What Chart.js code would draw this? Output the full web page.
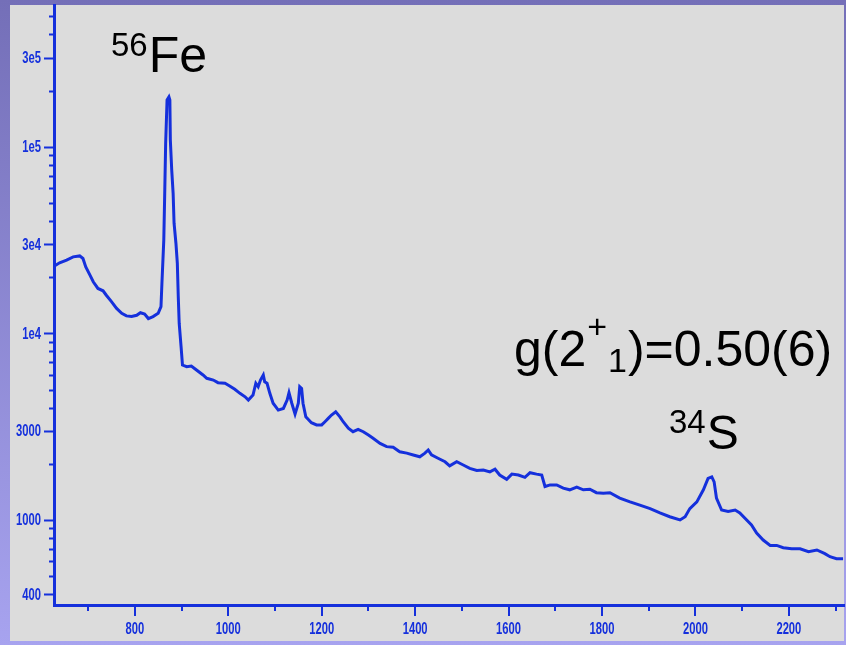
<!DOCTYPE html>
<html>
<head>
<meta charset="utf-8">
<script src="https://cdn.jsdelivr.net/npm/chart.js@4/dist/chart.umd.min.js"></script>
<style>
  html, body { margin: 0; padding: 0; background: #8c88d2; }
  #wrap { position: relative; width: 846px; height: 645px; }
  canvas { display: block; }
</style>
</head>
<body>
<div id="wrap"><canvas id="spec" width="846" height="645"></canvas></div>
<script>
// Gamma-ray spectrum: energy (keV) and counts per bin
const energies = [
  627, 639, 654, 668, 682, 689, 695, 704, 711, 721, 732, 739, 750, 761, 772, 782,
  793, 804, 812, 821, 829, 839, 850, 856, 858, 862, 864, 866, 869, 873, 875, 876,
  879, 882, 884, 888, 891, 893, 895, 899, 902, 911, 921, 932, 946, 954, 968, 978,
  993, 1003, 1014, 1025, 1036, 1043, 1053, 1059, 1064, 1069, 1075, 1078, 1083, 1089,
  1096, 1107, 1118, 1126, 1130, 1136, 1143, 1150, 1153, 1157, 1160, 1166, 1178, 1189,
  1200, 1207, 1214, 1221, 1230, 1239, 1246, 1257, 1267, 1278, 1289, 1300, 1310, 1325,
  1339, 1353, 1367, 1382, 1396, 1410, 1421, 1428, 1435, 1449, 1464, 1474, 1489, 1503,
  1517, 1532, 1546, 1560, 1571, 1581, 1596, 1607, 1621, 1635, 1646, 1660, 1671, 1678,
  1689, 1703, 1717, 1731, 1746, 1760, 1774, 1788, 1803, 1817, 1838, 1860, 1881, 1903,
  1924, 1945, 1967, 1978, 1988, 2003, 2017, 2027, 2035, 2040, 2045, 2056, 2070, 2085,
  2095, 2106, 2120, 2131, 2145, 2160, 2174, 2188, 2206, 2224, 2242, 2260, 2277, 2288,
  2302, 2316
];
const counts = [
  22900, 23900, 24700, 25700, 26000, 25200, 22700, 20500, 18900, 17400, 16900, 16000, 14800, 13600, 12800, 12400,
  12300, 12500, 12900, 12700, 12000, 12300, 12800, 13900, 18500, 31600, 56300, 104000, 178000, 185000, 178000, 109000,
  75000, 56300, 38900, 30400, 23700, 15700, 11300, 8480, 6760, 6620, 6680, 6360, 5980, 5740, 5620, 5440,
  5400, 5220, 5010, 4770, 4570, 4390, 4670, 5400, 5180, 5620, 5980, 5500, 5400, 4770,
  4220, 3880, 3960, 4390, 4810, 4220, 3690, 4220, 5180, 5070, 4220, 3570, 3320, 3230,
  3230, 3360, 3500, 3650, 3800, 3570, 3360, 3100, 2970, 3060, 2970, 2850, 2740, 2570,
  2470, 2450, 2320, 2280, 2230, 2180, 2280, 2370, 2230, 2140, 2050, 1950, 2050, 1970,
  1890, 1840, 1850, 1810, 1870, 1740, 1650, 1760, 1740, 1690, 1790, 1760, 1740, 1510,
  1540, 1540, 1480, 1450, 1500, 1450, 1460, 1400, 1390, 1400, 1310, 1250, 1200, 1150,
  1090, 1040, 1000, 1040, 1150, 1250, 1450, 1670, 1700, 1600, 1310, 1130, 1110, 1130,
  1090, 1020, 940, 850, 780, 730, 730, 710, 700, 700, 675, 690, 660, 635,
  620, 620
];

// Axis ticks
const xMajorTicks = [800, 1000, 1200, 1400, 1600, 1800, 2000, 2200];
const xMinorTicks = [700, 900, 1100, 1300, 1500, 1700, 1900, 2100, 2300];
const yMajorTicks = [400, 1000, 3000, 10000, 30000, 100000, 300000];
const yTickLabels = ['400', '1000', '3000', '1e4', '3e4', '1e5', '3e5'];
const yMinorTicks = [500, 600, 700, 800, 900, 2000, 4000, 5000, 6000, 7000, 8000, 9000,
  20000, 40000, 50000, 60000, 70000, 80000, 90000, 200000, 400000, 500000];

const AXIS_BLUE = '#1530dc';

// Page frame: purple backdrop with a light grey panel
const framePlugin = {
  id: 'frame',
  beforeDraw(chart) {
    const ctx = chart.ctx;
    ctx.save();
    const g = ctx.createLinearGradient(0, 0, 0, chart.height);
    g.addColorStop(0, '#746fb8');
    g.addColorStop(1, '#a7a3ef');
    ctx.fillStyle = g;
    ctx.fillRect(0, 0, chart.width, chart.height);
    ctx.fillStyle = '#dcdcdc';
    ctx.fillRect(10, 5, 834, 636);
    ctx.restore();
  }
};

// Tick marks (long for labelled values) and narrow tick labels
const tickPlugin = {
  id: 'tickMarks',
  afterDraw(chart) {
    const ctx = chart.ctx;
    const xs = chart.scales.x, ys = chart.scales.y;
    const area = chart.chartArea;
    ctx.save();
    ctx.strokeStyle = AXIS_BLUE;
    ctx.fillStyle = AXIS_BLUE;
    ctx.lineWidth = 2;
    const yTick = (v, len) => {
      const p = Math.round(ys.getPixelForValue(v)) + 0.5;
      ctx.beginPath(); ctx.moveTo(area.left - len, p); ctx.lineTo(area.left, p); ctx.stroke();
    };
    const xTick = (v, len) => {
      const p = Math.round(xs.getPixelForValue(v));
      ctx.beginPath(); ctx.moveTo(p, area.bottom); ctx.lineTo(p, area.bottom + len); ctx.stroke();
    };
    yMajorTicks.forEach(v => yTick(v, 10));
    yMinorTicks.forEach(v => yTick(v, 5));
    xMajorTicks.forEach(v => xTick(v, 11));
    xMinorTicks.forEach(v => { if (v <= xs.max) xTick(v, 6); });

    // condensed labels: squeeze the glyphs horizontally
    const squeeze = 0.7;
    ctx.font = "bold 16px 'Liberation Sans', Arial, sans-serif";
    ctx.textBaseline = 'middle';
    const label = (txt, x, y, align) => {
      ctx.save();
      ctx.translate(x, y);
      ctx.scale(squeeze, 1);
      ctx.textAlign = align;
      ctx.fillText(txt, 0, 0);
      ctx.restore();
    };
    yMajorTicks.forEach((v, i) => label(yTickLabels[i], area.left - 13, ys.getPixelForValue(v) + 1, 'right'));
    xMajorTicks.forEach(v => label(String(v), xs.getPixelForValue(v), area.bottom + 25, 'center'));
    ctx.restore();
  }
};

// Peak labels and g-factor result
const labelPlugin = {
  id: 'peakLabels',
  afterDraw(chart) {
    const ctx = chart.ctx;
    ctx.save();
    ctx.fillStyle = '#000';
    ctx.textBaseline = 'alphabetic';
    ctx.textAlign = 'left';
    const fam = "'Liberation Sans', Arial, sans-serif";
    const put = (txt, x, y, size) => {
      ctx.font = size + 'px ' + fam;
      ctx.fillText(txt, x, y);
      return x + ctx.measureText(txt).width;
    };
    // 56Fe
    let x = put('56', 111, 56, 33);
    put('Fe', x + 1, 72, 50);
    // g(2+1)=0.50(6)
    x = put('g(2', 514, 366, 50);
    const xp = put('+', x + 1, 338, 34);
    x = put('1', x + 3 + (xp - x) * 0.9, 372, 34);
    put(')=0.50(6)', x + 1, 366, 50);
    // 34S
    x = put('34', 669, 433, 33);
    put('S', x + 1, 449, 48);
    ctx.restore();
  }
};

new Chart(document.getElementById('spec'), {
  type: 'line',
  data: {
    datasets: [{
      data: energies.map((e, i) => ({ x: e, y: counts[i] })),
      borderColor: AXIS_BLUE,
      borderWidth: 3,
      pointRadius: 0,
      tension: 0,
      fill: false
    }]
  },
  options: {
    responsive: false,
    animation: false,
    devicePixelRatio: 1,
    layout: { padding: { left: 10, top: 5, right: 2, bottom: 5 } },
    plugins: { legend: { display: false }, tooltip: { enabled: false } },
    scales: {
      x: {
        type: 'linear',
        min: 627,
        max: 2318,
        afterFit(scale) { scale.height = 35; scale.paddingLeft = 0; scale.paddingRight = 0; },
        afterBuildTicks(scale) { scale.ticks = xMajorTicks.map(v => ({ value: v })); },
        border: { display: true, color: AXIS_BLUE, width: 3 },
        grid: { display: false, drawTicks: false },
        ticks: { display: false }
      },
      y: {
        type: 'logarithmic',
        min: 350,
        max: 575000,
        afterFit(scale) { scale.width = 44; scale.paddingTop = 0; scale.paddingBottom = 0; },
        afterBuildTicks(scale) { scale.ticks = yMajorTicks.map(v => ({ value: v })); },
        border: { display: true, color: AXIS_BLUE, width: 3 },
        grid: { display: false, drawTicks: false },
        ticks: { display: false }
      }
    }
  },
  plugins: [framePlugin, tickPlugin, labelPlugin]
});
</script>
</body>
</html>
